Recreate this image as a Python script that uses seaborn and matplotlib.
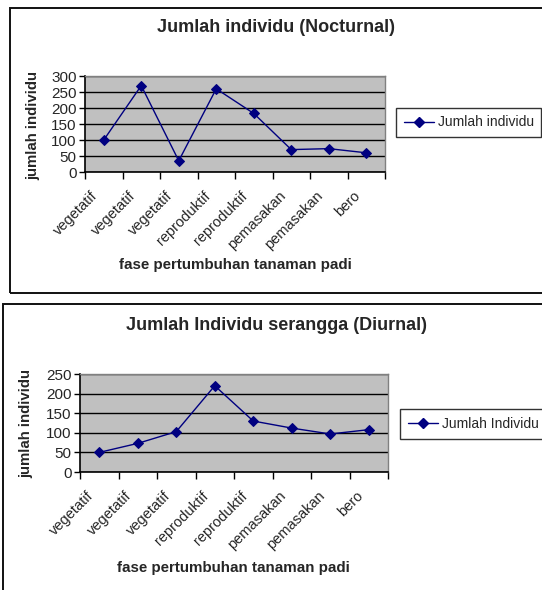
import matplotlib
matplotlib.use("Agg")
import matplotlib.pyplot as plt
import matplotlib.transforms as mtransforms
from matplotlib.patches import Rectangle
from matplotlib.lines import Line2D
import seaborn as sns
import pandas as pd

# Growth phases of the rice plant (one entry per observation)
fase = ["vegetatif", "vegetatif", "vegetatif", "reproduktif",
        "reproduktif", "pemasakan", "pemasakan", "bero"]

# Insect counts per observation
nocturnal = [100, 270, 35, 260, 183, 70, 73, 60]
diurnal = [50, 73, 103, 220, 130, 112, 97, 108]

nocturnal_ticks = [0, 50, 100, 150, 200, 250, 300]
diurnal_ticks = [0, 50, 100, 150, 200, 250]

sns.set_style("white")
plt.rcParams["font.family"] = ["Liberation Sans", "DejaVu Sans"]

W, H = 542, 590
fig = plt.figure(figsize=(W / 100, H / 100), dpi=100)
fig.patch.set_facecolor("white")

NAVY = "#000080"
PLOT_BG = "#c0c0c0"


def px_axes(x0, y0, x1, y1):
    return fig.add_axes([x0 / W, (H - y1) / H, (x1 - x0) / W, (y1 - y0) / H])


def frame(x0, y0, x1, y1):
    fig.patches.append(Rectangle((x0 / W, (H - y1) / H), (x1 - x0) / W, (y1 - y0) / H,
                                 transform=fig.transFigure, fill=False,
                                 edgecolor="#111111", linewidth=1.4, zorder=0))


def draw_panel(values, yticks, title, legend_label, box, area, title_xy,
               ylabel_xy, xlabel_xy, legend_xy):
    frame(*box)
    ax = px_axes(*area)
    df = pd.DataFrame({"urutan": range(len(fase)), "fase": fase, "jumlah": values})
    sns.lineplot(data=df, x="urutan", y="jumlah", ax=ax, color=NAVY, linewidth=1.0,
                 marker="D", markersize=5.5, markeredgecolor=NAVY, legend=False)
    ax.set_facecolor(PLOT_BG)
    ax.set_xlim(-0.5, len(fase) - 0.5)
    ax.set_ylim(yticks[0], yticks[-1])
    ax.set_yticks(yticks)
    ax.set_yticklabels([str(t) for t in yticks], fontsize=11)
    ax.yaxis.grid(True, color="black", linewidth=1.0)
    ax.set_axisbelow(True)
    ax.set_xticks(range(len(fase)))
    ax.set_xticks([i - 0.5 for i in range(len(fase) + 1)], minor=True)
    ax.tick_params(axis="x", which="major", length=0, pad=9)
    ax.tick_params(axis="x", which="minor", length=5, width=1, color="black",
                   direction="out", bottom=True)
    ax.tick_params(axis="y", length=4, width=1, color="black", direction="out",
                   left=True, pad=2)
    ax.set_xticklabels(fase, rotation=45, ha="right", va="top",
                       rotation_mode="anchor", fontsize=10.5)
    # nudge the slanted category names left/down so they end just before each point
    shift = mtransforms.ScaledTranslation(-13 / 100, -4 / 100, fig.dpi_scale_trans)
    for tick in ax.xaxis.get_major_ticks():
        tick.label1.set_transform(tick.label1.get_transform() + shift)
    for s in ("top", "right"):
        ax.spines[s].set_color("#808080")
        ax.spines[s].set_linewidth(1.0)
    for s in ("left", "bottom"):
        ax.spines[s].set_color("black")
        ax.spines[s].set_linewidth(1.2)
    ax.set_xlabel("")
    ax.set_ylabel("")

    fig.text(title_xy[0] / W, 1 - title_xy[1] / H, title, ha="center", va="center",
             fontsize=13, fontweight="bold")
    fig.text(ylabel_xy[0] / W, 1 - ylabel_xy[1] / H, "jumlah individu", ha="center",
             va="center", rotation=90, fontsize=10.8, fontweight="bold")
    fig.text(xlabel_xy[0] / W, 1 - xlabel_xy[1] / H, "fase pertumbuhan tanaman padi",
             ha="center", va="center", fontsize=10.9, fontweight="bold")

    handle = Line2D([], [], color=NAVY, linewidth=1.0, marker="D", markersize=5.5,
                    markeredgecolor=NAVY)
    leg = ax.legend([handle], [legend_label], loc="center left",
                    bbox_to_anchor=(legend_xy[0] / W, 1 - legend_xy[1] / H),
                    bbox_transform=fig.transFigure, frameon=True, fancybox=False,
                    edgecolor="black", fontsize=10, handlelength=2.2,
                    handletextpad=0.25, borderpad=0.55, borderaxespad=0)
    leg.get_frame().set_linewidth(1.0)
    return ax


draw_panel(nocturnal, nocturnal_ticks, "Jumlah individu (Nocturnal)", "Jumlah individu",
           box=(10, 8, 560, 293), area=(85, 76, 385, 172), title_xy=(276, 28),
           ylabel_xy=(33, 126), xlabel_xy=(235, 265), legend_xy=(396, 122.5))

draw_panel(diurnal, diurnal_ticks, "Jumlah Individu serangga (Diurnal)", "Jumlah Individu",
           box=(3, 304, 560, 610), area=(80, 374, 388, 472), title_xy=(276, 325),
           ylabel_xy=(26, 423), xlabel_xy=(233, 568), legend_xy=(400, 424))

fig.savefig("out.png", dpi=100, facecolor="white")
